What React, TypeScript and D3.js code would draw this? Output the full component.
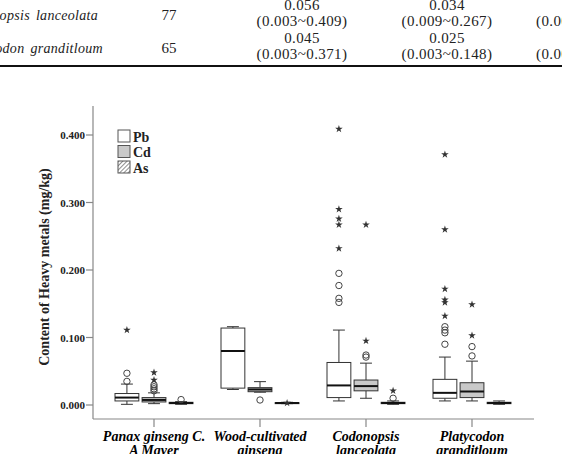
import * as d3 from "d3";

const species = ["Panax", "Wood", "Codonopsis", "Platycodon"];
const speciesLines = [
  ["Panax ginseng C.", "A Mayer"],
  ["Wood-cultivated", "ginseng"],
  ["Codonopsis", "lanceolata"],
  ["Platycodon", "granditloum"],
];
const metals = ["Pb", "Cd", "As"];
const yTicks = [0, 0.1, 0.2, 0.3, 0.4];

// [low whisker, Q1, median, Q3, high whisker] per species
const pbStats = [
  [0.001, 0.006, 0.011, 0.017, 0.031],
  [0.023, 0.025, 0.08, 0.114, 0.116],
  [0.006, 0.011, 0.029, 0.063, 0.111],
  [0.006, 0.01, 0.018, 0.038, 0.071],
];
const cdStats = [
  [0.002, 0.0045, 0.0075, 0.011, 0.018],
  [0.019, 0.0197, 0.023, 0.0257, 0.0346],
  [0.01, 0.021, 0.028, 0.037, 0.062],
  [0.006, 0.011, 0.02, 0.033, 0.065],
];
const asStats = [
  [0.001, 0.002, 0.003, 0.004, 0.005],
  [0.002, 0.0025, 0.003, 0.0035, 0.004],
  [0.001, 0.002, 0.003, 0.004, 0.006],
  [0.001, 0.002, 0.003, 0.004, 0.006],
];

// outliers: circles (mild) and stars (extreme)
const pbCircles = [[0.047, 0.035], [], [0.195, 0.177, 0.158, 0.152], [0.116, 0.111, 0.107, 0.09]];
const pbStars = [[0.111], [], [0.409, 0.29, 0.276, 0.267, 0.232], [0.371, 0.26, 0.172, 0.156, 0.152, 0.132]];
const cdCircles = [[0.021, 0.024, 0.027, 0.03], [0.0074], [0.074, 0.071], [0.0865, 0.0727]];
const cdStars = [[0.037, 0.048], [], [0.095, 0.267], [0.103, 0.149]];
const asCircles = [[0.008], [], [0.01], []];
const asStars = [[], [0.003], [0.021], []];

// table fragment
const tableRows = [
  { name: ["Codonopsis", "lanceolata"], n: "77", pb: ["0.056", "(0.003~0.409)"], cd: ["0.034", "(0.009~0.267)"], as: ["0", "(0.00"] },
  { name: ["Platycodon", "granditloum"], n: "65", pb: ["0.045", "(0.003~0.371)"], cd: ["0.025", "(0.003~0.148)"], as: ["0", "(0.00"] },
];

const serif = "'Liberation Serif', 'Times New Roman', serif";

export default function App() {
  const W = 562, H = 454;
  const x = d3.scaleBand<string>().domain(species).range([101, 525]);
  const sub = d3.scaleBand<string>().domain(metals).range([-39, 39]).paddingInner(0.12);
  const y = d3.scaleLinear().domain([0, 0.4]).range([405, 135]);
  const fmt = d3.format(".3f");
  const star = d3.symbol().type(d3.symbolStar).size(18)();

  const statsByMetal: Record<string, number[][]> = { Pb: pbStats, Cd: cdStats, As: asStats };
  const circByMetal: Record<string, number[][]> = { Pb: pbCircles, Cd: cdCircles, As: asCircles };
  const starByMetal: Record<string, number[][]> = { Pb: pbStars, Cd: cdStars, As: asStars };
  const fillByMetal: Record<string, string> = { Pb: "#fff", Cd: "#c9c9c9", As: "url(#hatch)" };

  const bw = sub.bandwidth();
  const axisX = 93, axisTop = 106, axisBottom = 419, axisRight = 534;

  return (
    <div style={{ position: "absolute", left: 0, top: 0 }}>
      <svg width={W} height={H} style={{ display: "block", background: "#fff" }}>
        <defs>
          <pattern id="hatch" width="3" height="3" patternUnits="userSpaceOnUse" patternTransform="rotate(45)">
            <rect width="3" height="3" fill="#fff" />
            <line x1="0" y1="0" x2="0" y2="3" stroke="#444" strokeWidth="1.2" />
          </pattern>
        </defs>

        {/* table fragment */}
        <g fontFamily={serif} fontSize={15} fill="#222">
          {tableRows.map((r, i) => {
            const y0 = 10 + i * 33;
            return (
              <g key={r.n}>
                <text x={98 + i * 5} y={y0 + 10} textAnchor="end" fontStyle="italic" fontSize={14} letterSpacing="0.3">
                  {r.name[0]}<tspan dx={6}>{r.name[1]}</tspan>
                </text>
                <text x={169} y={y0 + 10} textAnchor="middle">{r.n}</text>
                <text x={302} y={y0} textAnchor="middle" letterSpacing="0.4">{r.pb[0]}</text>
                <text x={302} y={y0 + 16} textAnchor="middle" letterSpacing="0.4">{r.pb[1]}</text>
                <text x={447} y={y0} textAnchor="middle" letterSpacing="0.4">{r.cd[0]}</text>
                <text x={447} y={y0 + 16} textAnchor="middle" letterSpacing="0.4">{r.cd[1]}</text>
                <text x={572} y={y0} textAnchor="middle">{r.as[0]}</text>
                <text x={536} y={y0 + 16} letterSpacing="0.4">{r.as[1]}</text>
              </g>
            );
          })}
          <line x1={0} x2={W} y1={66} y2={66} stroke="#111" strokeWidth={2} />
        </g>

        {/* axes */}
        <g stroke="#888" strokeWidth={1.2}>
          <line x1={axisX} x2={axisX} y1={axisTop} y2={axisBottom} />
          <line x1={axisX} x2={axisRight} y1={axisBottom} y2={axisBottom} />
          {yTicks.map(t => (
            <line key={t} x1={axisX - 7} x2={axisX} y1={y(t)} y2={y(t)} />
          ))}
          {species.map(s => (
            <line key={s} x1={x(s)! + x.bandwidth() / 2} x2={x(s)! + x.bandwidth() / 2} y1={axisBottom} y2={axisBottom + 8} />
          ))}
        </g>
        <g fontFamily={serif} fontSize={11} fontWeight="bold" fill="#222">
          {yTicks.map(t => (
            <text key={t} x={axisX - 8} y={y(t) + 4} textAnchor="end">{fmt(t)}</text>
          ))}
        </g>
        <text
          transform={`translate(49,${267}) rotate(-90)`}
          textAnchor="middle"
          fontFamily={serif}
          fontSize={14}
          fontWeight="bold"
          fill="#222"
        >
          Content of Heavy metals (mg/kg)
        </text>
        <g fontFamily={serif} fontSize={14} fontWeight="bold" fontStyle="italic" fill="#000">
          {species.map((s, i) => (
            <text key={s} x={x(s)! + x.bandwidth() / 2} y={441} textAnchor="middle">
              <tspan x={x(s)! + x.bandwidth() / 2}>{speciesLines[i][0]}</tspan>
              <tspan x={x(s)! + x.bandwidth() / 2} dy={14}>{speciesLines[i][1]}</tspan>
            </text>
          ))}
        </g>

        {/* boxes */}
        {species.map((s, si) => (
          <g key={s}>
            {metals.map(m => {
              const [lo, q1, med, q3, hi] = statsByMetal[m][si];
              const cx = x(s)! + x.bandwidth() / 2 + sub(m)! + bw / 2;
              const x0 = cx - bw / 2;
              const cap = bw / 2;
              return (
                <g key={m}>
                  <g stroke="#333" strokeWidth={1}>
                    <line x1={cx} x2={cx} y1={y(hi)} y2={y(q3)} />
                    <line x1={cx} x2={cx} y1={y(q1)} y2={y(lo)} />
                    <line x1={cx - cap / 2} x2={cx + cap / 2} y1={y(hi)} y2={y(hi)} />
                    <line x1={cx - cap / 2} x2={cx + cap / 2} y1={y(lo)} y2={y(lo)} />
                    <rect x={x0} y={y(q3)} width={bw} height={Math.max(1, y(q1) - y(q3))} fill={fillByMetal[m]} />
                  </g>
                  <line x1={x0} x2={x0 + bw} y1={y(med)} y2={y(med)} stroke="#111" strokeWidth={2} />
                  {circByMetal[m][si].map((v, k) => (
                    <circle key={"c" + k} cx={cx} cy={y(v)} r={3.2} fill="none" stroke="#444" strokeWidth={1} />
                  ))}
                  {starByMetal[m][si].map((v, k) => (
                    <path key={"s" + k} d={star} transform={`translate(${cx},${y(v)})`} fill="#333" />
                  ))}
                </g>
              );
            })}
          </g>
        ))}

        {/* legend */}
        <g fontFamily={serif} fontSize={14} fontWeight="bold" fill="#222">
          {metals.map((m, i) => (
            <g key={m} transform={`translate(118,${130 + i * 15.5})`}>
              <rect width={12} height={12} fill={fillByMetal[m]} stroke="#555" strokeWidth={1} />
              <text x={15} y={11.5}>{m}</text>
            </g>
          ))}
        </g>
      </svg>
    </div>
  );
}
